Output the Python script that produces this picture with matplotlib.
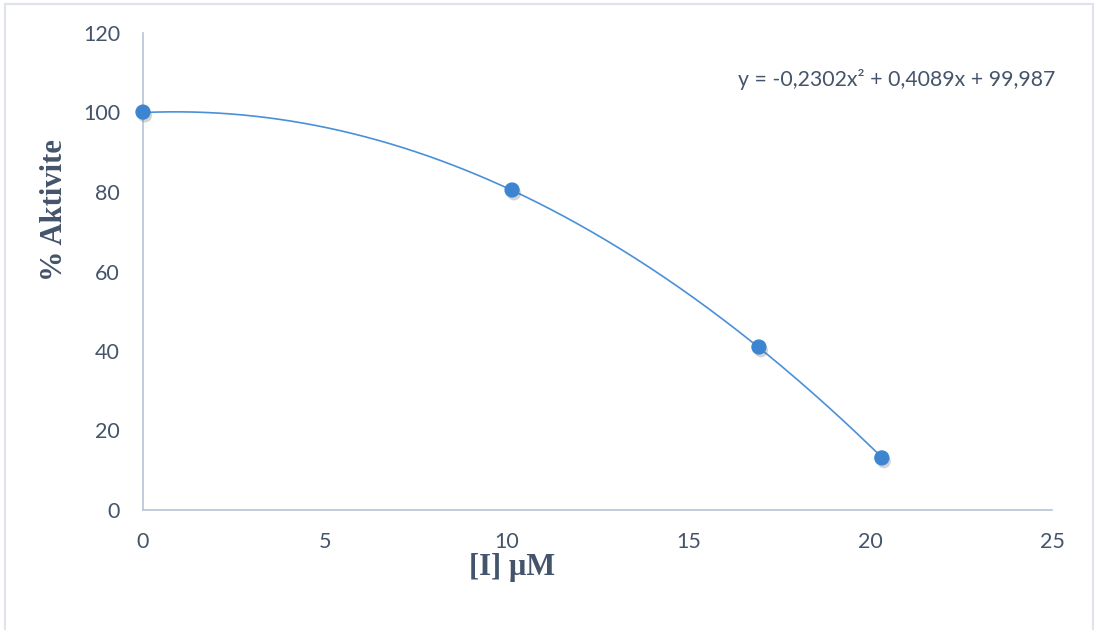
import numpy as np
import matplotlib
matplotlib.use("Agg")
import matplotlib.pyplot as plt
import matplotlib.patheffects as pe
from matplotlib.patches import Rectangle

# data
conc = [0.0, 10.15, 16.94, 20.32]
activity = [100.1, 80.5, 41.0, 13.1]
trend_coef = [-0.2302, 0.4089, 99.987]  # from displayed equation
equation = "y = -0,2302x\u00b2 + 0,4089x + 99,987"
xticks = [0, 5, 10, 15, 20, 25]
yticks = [0, 20, 40, 60, 80, 100, 120]

tick_color = "#44546a"
axis_color = "#b9c4d6"
blue = "#3d85d0"
line_blue = "#4a90d9"

fig = plt.figure(figsize=(10.96, 6.30), dpi=100)
fig.patches.append(Rectangle((5/1096, -0.05), (1093-5)/1096, (630-4)/630 + 0.05,
                             transform=fig.transFigure, fill=False,
                             edgecolor="#dfe4ec", linewidth=1.5))
ax = fig.add_axes([143/1096, (630-510)/630, (1052-143)/1096, (510-33)/630])

xs = np.linspace(min(conc), max(conc), 300)
ax.plot(xs, np.polyval(trend_coef, xs), color=line_blue, lw=1.2, zorder=2)
ax.plot(conc, activity, linestyle="none", marker="o", markersize=10,
        color=blue, markeredgecolor=blue, zorder=3, clip_on=False,
        path_effects=[pe.SimplePatchShadow(offset=(1.5, -2.5), alpha=0.25, shadow_rgbFace="#555555"),
                      pe.Normal()])

ax.set_xlim(0, 25)
ax.set_ylim(0, 120)
ax.set_xticks(xticks)
ax.set_yticks(yticks)
ax.set_xticklabels([str(v) for v in xticks])
ax.set_yticklabels([str(v) for v in yticks])
for s in ["top", "right"]:
    ax.spines[s].set_visible(False)
for s in ["left", "bottom"]:
    ax.spines[s].set_color(axis_color)
    ax.spines[s].set_linewidth(1.2)
ax.tick_params(axis="both", length=0, labelsize=15.5, labelcolor=tick_color)
ax.tick_params(axis="y", pad=16.5)
ax.tick_params(axis="x", pad=16)
for lab in ax.get_xticklabels() + ax.get_yticklabels():
    lab.set_fontfamily("Lato")

fig.text(512/1096, 1 - 567/630, "[I] \u00b5M", ha="center", va="center",
         fontsize=22, fontweight="bold", family="Liberation Serif", color=tick_color)
fig.text(55/1096, 1 - 210/630, "% Aktivite", ha="center", va="center", rotation=90,
         fontsize=22, fontweight="bold", family="Liberation Serif", color=tick_color)
fig.text(738/1096, 1 - 80/630, equation, ha="left", va="center",
         fontsize=15.3, family="Lato", color=tick_color)

fig.savefig("out.png", dpi=100)
